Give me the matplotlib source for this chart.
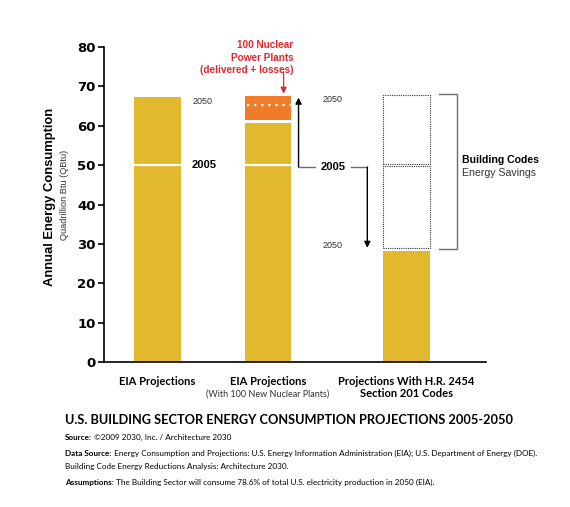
import matplotlib.pyplot as plt

# data (QBtu)
categories = ['EIA Projections', 'EIA Projections', 'Projections With H.R. 2454\nSection 201 Codes']
positions = [0, 1, 2.25]
level_2005 = 50
eia_2050 = [67.3, 60.6, 28.2]          # yellow bar tops
nuclear_range = [61.4, 67.4]            # orange block (delivered + losses)
nuclear_delivered = 65.1                # dotted line inside orange block
savings_range = [28.9, 67.8]            # dotted "savings" outline
yticks = [0, 10, 20, 30, 40, 50, 60, 70, 80]

YELLOW = '#E2B82E'
ORANGE = '#F07C2A'
RED = '#E3262D'
GREY = '#6d6d6d'
W = 0.42
ARIAL = 'Liberation Sans'
FNT = 'Lato'

fig = plt.figure(figsize=(5.7, 5.07), dpi=100)
ax = fig.add_axes([104 / 570, 1 - 362.3 / 507, (486 - 104) / 570, (362.3 - 46.7) / 507])
ax.set_ylim(0, 80)
ax.set_xlim(-0.482, 2.968)
renderer = fig.canvas.get_renderer()


def fit(t, target_px, vertical=False):
    """Scale a text's font size so it spans target_px."""
    for _ in range(2):
        bb = t.get_window_extent(renderer=renderer)
        size = bb.height if vertical else bb.width
        t.set_fontsize(t.get_fontsize() * target_px / size)
    return t


ax.bar(positions, eia_2050, width=W, color=YELLOW, zorder=2)
ax.bar(positions[1], nuclear_range[1] - nuclear_range[0], bottom=nuclear_range[0],
       width=W, color=ORANGE, zorder=2)
# white separators
for p in positions[:2]:
    ax.hlines(level_2005, p - W / 2, p + W / 2, color='white', lw=1.6, zorder=3)
ax.hlines(nuclear_delivered, positions[1] - W / 2 + 0.02, positions[1] + W / 2,
          color='white', lw=1.6, linestyles=(0, (1, 2.2)), zorder=3)

# dotted savings boxes
p3 = positions[2]
ax.bar(p3, level_2005 - savings_range[0] - 0.3, bottom=savings_range[0], width=W,
       fill=False, edgecolor='#333333', lw=0.8, ls=(0, (1, 1)), zorder=2)
ax.bar(p3, savings_range[1] - level_2005 - 0.3, bottom=level_2005 + 0.3, width=W,
       fill=False, edgecolor='#333333', lw=0.8, ls=(0, (1, 1)), zorder=2)

# bracket
bx0, bx1 = 2.545, 2.707
ax.plot([bx0, bx1, bx1, bx0], [68.0, 68.0, 28.7, 28.7], color=GREY, lw=1.0,
        solid_joinstyle='miter', clip_on=False)
ax.text(2.752, 51.3, 'Building Codes', fontsize=7.6, fontweight='bold', va='center',
        family=ARIAL)
ax.text(2.752, 48.0, 'Energy Savings', fontsize=7.6, va='center', color='#333333',
        family=ARIAL)

# year labels
ax.text(0.41, 66.0, '2050', fontsize=6.5, color='#333333', va='center', ha='center', family=ARIAL)
ax.text(0.42, 50, '2005', fontsize=8, fontweight='bold', va='center', ha='center', family=ARIAL)
ax.text(1.58, 66.6, '2050', fontsize=6.5, color='#333333', va='center', ha='center', family=ARIAL)
ax.text(1.58, 29.5, '2050', fontsize=6.5, color='#333333', va='center', ha='center', family=ARIAL)
ax.text(1.59, 49.5, '2005', fontsize=8, fontweight='bold', va='center', ha='center', family=ARIAL)

# arrows from 2005
ux = 1.275
ax.plot([1.428, ux], [49.5, 49.5], color=GREY, lw=1.0)
ax.annotate('', xy=(ux, 67.1), xytext=(ux, 49.5),
            arrowprops=dict(arrowstyle='-|>', color='black', lw=1.0,
                            shrinkA=0, shrinkB=0, mutation_scale=9))
dx = 1.896
ax.plot([1.752, dx], [49.5, 49.5], color=GREY, lw=1.0)
ax.annotate('', xy=(dx, 29.0), xytext=(dx, 49.5),
            arrowprops=dict(arrowstyle='-|>', color='black', lw=1.0,
                            shrinkA=0, shrinkB=0, mutation_scale=9))

# nuclear callout
ax.text(1.23, 77.2, '100 Nuclear\nPower Plants\n(delivered + losses)', color=RED,
        fontsize=7.2, fontweight='bold', ha='right', va='center', multialignment='right',
        linespacing=1.3, family=ARIAL, clip_on=False)
ax.annotate('', xy=(1.14, 68.1), xytext=(1.14, 73.5),
            arrowprops=dict(arrowstyle='-|>', color=RED, lw=0.9,
                            shrinkA=0, shrinkB=0, mutation_scale=9))

# axes styling
for s in ['top', 'right']:
    ax.spines[s].set_visible(False)
ax.spines['left'].set_linewidth(1.2)
ax.spines['bottom'].set_linewidth(1.2)
ax.set_yticks(yticks)
ax.set_yticklabels([str(t) for t in yticks], fontweight='bold', fontsize=9.5)
ax.tick_params(axis='y', length=4, width=1.2, pad=2)
ax.set_xticks([])

# y labels
yl = fig.text(0.088, 1 - 197 / 507, 'Annual Energy Consumption', rotation=90, fontsize=9,
              fontweight='bold', ha='center', va='center', family=ARIAL)
fit(yl, 178, vertical=True)
yl2 = fig.text(0.113, 1 - 195 / 507, 'Quadrillion Btu (QBtu)', rotation=90, fontsize=6.5,
               ha='center', va='center', color='#333333', family=ARIAL)
fit(yl2, 90, vertical=True)

# category labels
for p, c in zip(positions, categories):
    ax.text(p, -3.5, c, fontsize=8, fontweight='bold', ha='center', va='top',
            family=FNT, linespacing=1.15, clip_on=False)
ax.text(positions[1], -6.9, '(With 100 New Nuclear Plants)', fontsize=6.5, ha='center',
        va='top', family=FNT, color='#333333', clip_on=False)

# title and notes
X0 = 65 / 570
title = fig.text(X0, 1 - 420 / 507,
                 'U.S. BUILDING SECTOR ENERGY CONSUMPTION PROJECTIONS 2005-2050',
                 fontsize=10, fontweight='bold', family=FNT, va='center')
fit(title, 449)

notes = [
    (437, 'Source:', '©2009 2030, Inc. / Architecture 2030'),
    (453, 'Data Source:', 'Energy Consumption and Projections: U.S. Energy Information '
     'Administration (EIA); U.S. Department of Energy (DOE).'),
    (466, '', 'Building Code Energy Reductions Analysis: Architecture 2030.'),
    (482, 'Assumptions:', 'The Building Sector will consume 78.6% of total U.S. electricity '
     'production in 2050 (EIA).'),
]

# one font size for all notes, fitted on the longest line
p1 = fig.text(0, 0, notes[1][1], fontsize=10, fontweight='bold', family=FNT)
p2 = fig.text(0, 0, ' ' + notes[1][2], fontsize=10, family=FNT)
w = p1.get_window_extent(renderer=renderer).width + p2.get_window_extent(renderer=renderer).width
p1.remove()
p2.remove()
note_size = 10 * (538 - 65) / w

for y, bold, rest in notes:
    x = X0
    if bold:
        t1 = fig.text(X0, 1 - y / 507, bold, fontsize=note_size, fontweight='bold',
                      family=FNT, va='center')
        bb = t1.get_window_extent(renderer=renderer)
        x = fig.transFigure.inverted().transform((bb.x1, 0))[0]
        rest = ' ' + rest
    fig.text(x, 1 - y / 507, rest, fontsize=note_size, family=FNT, va='center')

fig.savefig('out.png', dpi=100)
